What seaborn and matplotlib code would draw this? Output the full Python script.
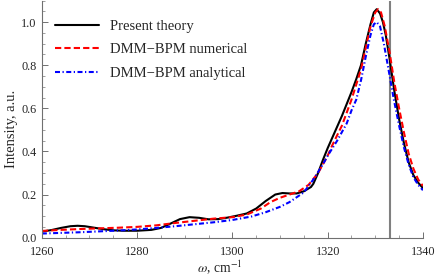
import numpy as np
import pandas as pd
import matplotlib
matplotlib.use("Agg")
import matplotlib.pyplot as plt
from matplotlib.ticker import MultipleLocator
import seaborn as sns

# Present theory (black solid)
w_present = [1260, 1262, 1264, 1266, 1267.5, 1269, 1271, 1273, 1275, 1277, 1280, 1283, 1285, 1287,
             1289, 1291, 1293, 1295, 1297, 1299, 1301, 1303, 1305, 1307, 1309, 1310.5, 1312, 1313.5,
             1315, 1316.5, 1317, 1318, 1319, 1320, 1321, 1322, 1323, 1324, 1325, 1326, 1327, 1328,
             1329, 1329.7, 1330.3, 1331, 1331.6, 1332.2, 1333, 1334, 1335, 1336, 1337, 1338, 1339, 1340]
i_present = [0.028, 0.035, 0.045, 0.053, 0.055, 0.053, 0.046, 0.039, 0.034, 0.032, 0.032, 0.036, 0.045, 0.065,
             0.086, 0.095, 0.092, 0.085, 0.086, 0.093, 0.102, 0.112, 0.135, 0.170, 0.200, 0.207, 0.205, 0.205,
             0.215, 0.235, 0.25, 0.30, 0.36, 0.415, 0.465, 0.515, 0.565, 0.62, 0.675, 0.735, 0.80, 0.90,
             0.99, 1.045, 1.06, 1.04, 1.00, 0.94, 0.83, 0.68, 0.55, 0.44, 0.35, 0.29, 0.255, 0.23]

# DMM-BPM numerical (red dashed)
w_num = [1260, 1264, 1268, 1272, 1276, 1280, 1284, 1288, 1292, 1296, 1300, 1303, 1306, 1308, 1310,
         1312, 1314, 1316, 1318, 1320, 1321, 1322, 1323, 1324, 1325, 1326, 1327, 1328, 1329, 1330,
         1330.6, 1331.2, 1332, 1333, 1334, 1335, 1336, 1337, 1338, 1339, 1340]
i_num = [0.031, 0.036, 0.040, 0.043, 0.046, 0.050, 0.057, 0.068, 0.078, 0.088, 0.095, 0.107, 0.135, 0.165, 0.185,
         0.200, 0.215, 0.245, 0.30, 0.38, 0.43, 0.475, 0.52, 0.58, 0.64, 0.71, 0.78, 0.88, 0.98, 1.045,
         1.06, 1.045, 0.98, 0.86, 0.72, 0.60, 0.49, 0.39, 0.32, 0.27, 0.24]

# DMM-BPM analytical (blue dash-dot)
w_ana = [1260, 1264, 1268, 1272, 1276, 1280, 1284, 1288, 1292, 1296, 1300, 1304, 1307, 1310, 1312,
         1314, 1315, 1317, 1319, 1320, 1322, 1324, 1325, 1326, 1327, 1328, 1329, 1329.7, 1330.3, 1331,
         1331.8, 1332.7, 1333.9, 1335, 1336, 1337, 1338, 1339, 1340]
i_ana = [0.019, 0.022, 0.025, 0.029, 0.033, 0.038, 0.045, 0.053, 0.062, 0.071, 0.082, 0.098, 0.118, 0.143, 0.165,
         0.195, 0.21, 0.27, 0.34, 0.38, 0.45, 0.53, 0.59, 0.64, 0.73, 0.84, 0.94, 0.99, 1.0, 0.98,
         0.90, 0.79, 0.64, 0.52, 0.42, 0.34, 0.28, 0.245, 0.22]

omega_line = 1333.0

sns.set_style("ticks")
plt.rcParams['font.family'] = ['Liberation Serif', 'DejaVu Serif']
plt.rcParams['mathtext.fontset'] = 'stix'

fig = plt.figure(figsize=(4.36, 2.76), dpi=100)
ax = fig.add_axes([0.096, 0.139, 0.874, 0.859])

ax.axvline(omega_line, color='#808080', lw=1.5, zorder=1)

df_p = pd.DataFrame({"w": w_present, "I": i_present})
df_n = pd.DataFrame({"w": w_num, "I": i_num})
df_a = pd.DataFrame({"w": w_ana, "I": i_ana})

sns.lineplot(data=df_p, x="w", y="I", color='black', lw=1.5, label="Present theory", ax=ax, sort=False)
sns.lineplot(data=df_n, x="w", y="I", color='#ff0000', lw=1.5, linestyle=(0, (3, 1.5)),
             label="DMM\u2212BPM numerical", ax=ax, sort=False)
sns.lineplot(data=df_a, x="w", y="I", color='#0000ff', lw=1.5, linestyle=(0, (2.4, 1.2, 0.6, 1.2)),
             label="DMM\u2212BPM analytical", ax=ax, sort=False)

ax.set_xlim(1260, 1340)
ax.set_ylim(0, 1.1)
ax.xaxis.set_major_locator(MultipleLocator(20))
ax.xaxis.set_minor_locator(MultipleLocator(5))
ax.yaxis.set_major_locator(MultipleLocator(0.2))
ax.yaxis.set_minor_locator(MultipleLocator(0.05))
ax.yaxis.set_major_formatter(matplotlib.ticker.FormatStrFormatter('%.1f'))

sns.despine(ax=ax)
for s in ['left', 'bottom']:
    ax.spines[s].set_color('#707070')
    ax.spines[s].set_linewidth(0.8)
ax.tick_params(which='major', direction='in', length=4, width=0.7, color='#707070', labelsize=8.8)
ax.tick_params(which='minor', direction='in', length=2.2, width=0.6, color='#909090')
ax.tick_params(axis='x', which='major', pad=6)
ax.tick_params(axis='y', which='major', pad=4)

ax.set_xlabel(r"$\omega$, cm$^{-1}$", fontsize=9.8)
ax.set_ylabel("Intensity, a.u.", fontsize=10.5)
ax.xaxis.set_label_coords(0.467, -0.09)
ax.yaxis.set_label_coords(-0.062, 0.46)

leg = ax.legend(loc='upper left', bbox_to_anchor=(0.02, 0.945), frameon=False, fontsize=10.5,
                handlelength=3.0, handletextpad=0.75, labelspacing=0.72, borderaxespad=0)

fig.savefig("out.png", dpi=100)
